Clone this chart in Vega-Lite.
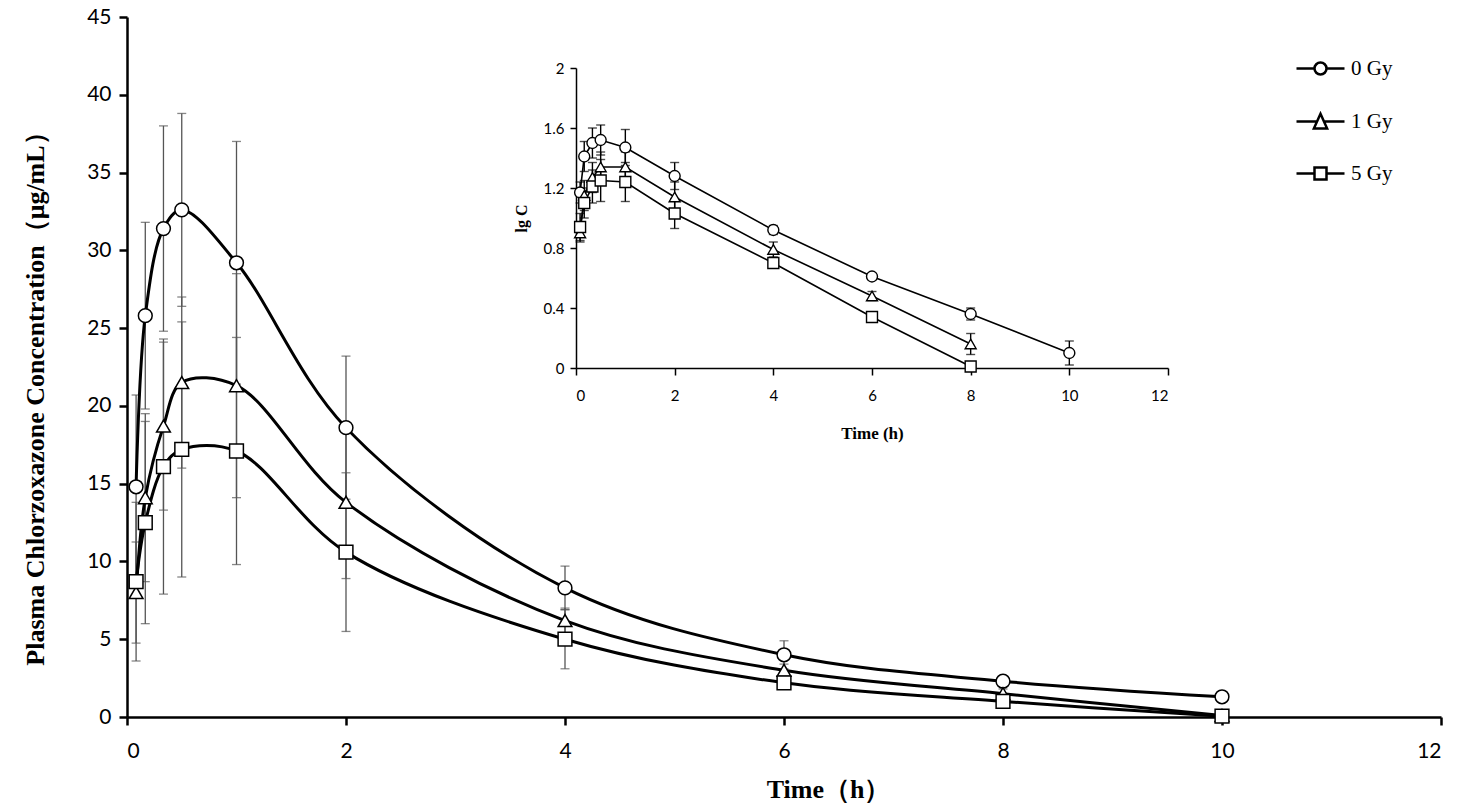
{
  "$schema": "https://vega.github.io/schema/vega-lite/v6.json",
  "width": 1314,
  "height": 700,
  "autosize": {"type": "none"},
  "padding": {"left": 127, "top": 17, "right": 35, "bottom": 88},
  "background": "white",
  "config": {
    "view": {"stroke": null},
    "axis": {"grid": false, "domainColor": "black", "tickColor": "black", "labelColor": "black", "titleColor": "black"}
  },
  "datasets": {
    "main": [
      {"group": "0 Gy", "t": 0.083, "c": 14.8, "sd": 5.9},
      {"group": "0 Gy", "t": 0.167, "c": 25.8, "sd": 6.0},
      {"group": "0 Gy", "t": 0.333, "c": 31.4, "sd": 6.6},
      {"group": "0 Gy", "t": 0.5, "c": 32.6, "sd": 6.2},
      {"group": "0 Gy", "t": 1, "c": 29.2, "sd": 7.8},
      {"group": "0 Gy", "t": 2, "c": 18.6, "sd": 4.6},
      {"group": "0 Gy", "t": 4, "c": 8.3, "sd": 1.4},
      {"group": "0 Gy", "t": 6, "c": 4.0, "sd": 0.9},
      {"group": "0 Gy", "t": 8, "c": 2.3, "sd": 0.3},
      {"group": "0 Gy", "t": 10, "c": 1.3, "sd": 0.2},
      {"group": "1 Gy", "t": 0.083, "c": 8.0, "sd": 3.25},
      {"group": "1 Gy", "t": 0.167, "c": 14.1, "sd": 5.4},
      {"group": "1 Gy", "t": 0.333, "c": 18.7, "sd": 5.4},
      {"group": "1 Gy", "t": 0.5, "c": 21.5, "sd": 5.5},
      {"group": "1 Gy", "t": 1, "c": 21.3, "sd": 7.2},
      {"group": "1 Gy", "t": 2, "c": 13.8, "sd": 4.9},
      {"group": "1 Gy", "t": 4, "c": 6.2, "sd": 0.8},
      {"group": "1 Gy", "t": 6, "c": 3.0, "sd": 0.4},
      {"group": "1 Gy", "t": 8, "c": 1.5, "sd": 0.3},
      {"group": "1 Gy", "t": 10, "c": 0.1, "sd": 0.1},
      {"group": "5 Gy", "t": 0.083, "c": 8.7, "sd": 5.1},
      {"group": "5 Gy", "t": 0.167, "c": 12.5, "sd": 6.5},
      {"group": "5 Gy", "t": 0.333, "c": 16.1, "sd": 8.2},
      {"group": "5 Gy", "t": 0.5, "c": 17.2, "sd": 8.2},
      {"group": "5 Gy", "t": 1, "c": 17.1, "sd": 7.3},
      {"group": "5 Gy", "t": 2, "c": 10.6, "sd": 5.1},
      {"group": "5 Gy", "t": 4, "c": 5.0, "sd": 1.9},
      {"group": "5 Gy", "t": 6, "c": 2.2, "sd": 0.4},
      {"group": "5 Gy", "t": 8, "c": 1.0, "sd": 0.2},
      {"group": "5 Gy", "t": 10, "c": 0.05, "sd": 0.05}
    ],
    "inset": [
      {"group": "0 Gy", "t": 0.083, "lg": 1.17, "sd": 0.07},
      {"group": "0 Gy", "t": 0.167, "lg": 1.41, "sd": 0.1},
      {"group": "0 Gy", "t": 0.333, "lg": 1.5, "sd": 0.1},
      {"group": "0 Gy", "t": 0.5, "lg": 1.52, "sd": 0.1},
      {"group": "0 Gy", "t": 1, "lg": 1.47, "sd": 0.12},
      {"group": "0 Gy", "t": 2, "lg": 1.28, "sd": 0.09},
      {"group": "0 Gy", "t": 4, "lg": 0.92, "sd": 0.03},
      {"group": "0 Gy", "t": 6, "lg": 0.61, "sd": 0.02},
      {"group": "0 Gy", "t": 8, "lg": 0.36, "sd": 0.04},
      {"group": "0 Gy", "t": 10, "lg": 0.1, "sd": 0.08},
      {"group": "1 Gy", "t": 0.083, "lg": 0.9, "sd": 0.06},
      {"group": "1 Gy", "t": 0.167, "lg": 1.15, "sd": 0.1},
      {"group": "1 Gy", "t": 0.333, "lg": 1.27, "sd": 0.1},
      {"group": "1 Gy", "t": 0.5, "lg": 1.34, "sd": 0.1},
      {"group": "1 Gy", "t": 1, "lg": 1.34, "sd": 0.1},
      {"group": "1 Gy", "t": 2, "lg": 1.14, "sd": 0.1},
      {"group": "1 Gy", "t": 4, "lg": 0.79, "sd": 0.05},
      {"group": "1 Gy", "t": 6, "lg": 0.48, "sd": 0.03},
      {"group": "1 Gy", "t": 8, "lg": 0.16, "sd": 0.07},
      {"group": "5 Gy", "t": 0.083, "lg": 0.94, "sd": 0.09},
      {"group": "5 Gy", "t": 0.167, "lg": 1.1, "sd": 0.1},
      {"group": "5 Gy", "t": 0.333, "lg": 1.21, "sd": 0.11},
      {"group": "5 Gy", "t": 0.5, "lg": 1.25, "sd": 0.14},
      {"group": "5 Gy", "t": 1, "lg": 1.24, "sd": 0.13},
      {"group": "5 Gy", "t": 2, "lg": 1.03, "sd": 0.1},
      {"group": "5 Gy", "t": 4, "lg": 0.7, "sd": 0.03},
      {"group": "5 Gy", "t": 6, "lg": 0.34, "sd": 0.03},
      {"group": "5 Gy", "t": 8, "lg": 0.01, "sd": 0.02}
    ]
  },
  "layer": [
    {
      "data": {"name": "main"},
      "encoding": {
        "x": {
          "field": "t", "type": "quantitative",
          "scale": {"domain": [0, 12], "nice": false, "zero": false},
          "axis": {
            "orient": "bottom", "values": [0, 2, 4, 6, 8, 10, 12],
            "domainWidth": 2.5, "tickWidth": 2.5, "tickSize": 8,
            "labelFont": "Lato", "labelFontSize": 21, "labelPadding": 15,
            "title": "Time（h）", "titleFont": "Liberation Serif", "titleFontWeight": "bold",
            "titleFontSize": 26, "titleX": 701, "titleY": 80, "titleBaseline": "alphabetic"
          }
        },
        "y": {
          "field": "c", "type": "quantitative",
          "scale": {"domain": [0, 45], "nice": false},
          "axis": {
            "orient": "left", "values": [0, 5, 10, 15, 20, 25, 30, 35, 40, 45],
            "domainWidth": 2.5, "tickWidth": 2.5, "tickSize": 8,
            "labelFont": "Lato", "labelFontSize": 21, "labelPadding": 8,
            "title": "Plasma  Chlorzoxazone Concentration（μg/mL）", "titleFont": "Liberation Serif",
            "titleFontWeight": "bold", "titleFontSize": 26, "titleX": -84, "titleY": 375,
            "titleBaseline": "alphabetic"
          }
        }
      },
      "layer": [
        {
          "mark": {"type": "errorbar", "color": "#555555", "thickness": 1.3, "ticks": {"size": 9, "color": "#555555", "thickness": 1.3}},
          "encoding": {"yError": {"field": "sd"}, "detail": {"field": "group"}}
        },
        {
          "mark": {"type": "line", "interpolate": "catmull-rom", "color": "black", "strokeWidth": 3},
          "encoding": {"detail": {"field": "group"}}
        },
        {
          "mark": {"type": "point", "filled": true, "fill": "white", "stroke": "black", "strokeWidth": 1.5, "opacity": 1, "size": 190},
          "encoding": {
            "shape": {
              "field": "group", "type": "nominal",
              "scale": {"domain": ["0 Gy", "1 Gy", "5 Gy"], "range": ["circle", "triangle-up", "square"]},
              "legend": null
            }
          }
        }
      ]
    },
    {
      "data": {"name": "inset"},
      "encoding": {
        "x": {
          "field": "t", "type": "quantitative",
          "scale": {"domain": [0, 12], "nice": false, "zero": false, "range": [449, 1041]},
          "axis": {
            "orient": "bottom", "offset": -349, "values": [0, 2, 4, 6, 8, 10, 12],
            "domainWidth": 1.5, "tickWidth": 1.5, "tickSize": 7,
            "labelFont": "Lato", "labelFontSize": 15, "labelPadding": 13,
            "title": "Time (h)", "titleFont": "Liberation Serif", "titleFontWeight": "bold",
            "titleFontSize": 17, "titlePadding": 22
          }
        },
        "y": {
          "field": "lg", "type": "quantitative",
          "scale": {"domain": [0, 2], "nice": false, "range": [351, 51]},
          "axis": {
            "orient": "left", "offset": -449, "values": [0, 0.4, 0.8, 1.2, 1.6, 2], "format": "~g",
            "domainWidth": 1.5, "tickWidth": 1.5, "tickSize": 6,
            "labelFont": "Lato", "labelFontSize": 15, "labelPadding": 6,
            "title": "lg C", "titleFont": "Liberation Serif", "titleFontWeight": "bold",
            "titleFontSize": 16, "titlePadding": 14
          }
        }
      },
      "layer": [
        {
          "mark": {"type": "errorbar", "color": "black", "thickness": 1.4, "ticks": {"size": 9, "color": "black", "thickness": 1.4}},
          "encoding": {"yError": {"field": "sd"}, "detail": {"field": "group"}}
        },
        {
          "mark": {"type": "line", "color": "black", "strokeWidth": 1.6},
          "encoding": {"detail": {"field": "group"}}
        },
        {
          "mark": {"type": "point", "filled": true, "fill": "white", "stroke": "black", "strokeWidth": 1.4, "opacity": 1, "size": 120},
          "encoding": {
            "shape": {
              "field": "group", "type": "nominal",
              "scale": {"domain": ["0 Gy", "1 Gy", "5 Gy"], "range": ["circle", "triangle-up", "square"]},
              "legend": null
            }
          }
        }
      ]
    },
    {
      "data": {"values": []},
      "mark": {"type": "point", "color": "black", "strokeWidth": 2.5, "opacity": 1},
      "encoding": {
        "shape": {
          "field": "group", "type": "nominal",
          "scale": {
            "domain": ["0 Gy", "1 Gy", "5 Gy"],
            "range": [
              "M-4,0L-1,0M1,0L4,0M-1,0A1,1,0,1,1,1,0A1,1,0,1,1,-1,0Z",
              "M-4,0L-0.58,0M0.58,0L4,0M0,-1.3L1.1,1.15L-1.1,1.15Z",
              "M-4,0L-1,0M1,0L4,0M-1,-1L1,-1L1,1L-1,1Z"
            ]
          },
          "legend": {
            "orient": "none", "legendX": 1183, "legendY": 41, "title": null, "padding": 0,
            "symbolSize": 144, "symbolStrokeWidth": 2.5, "symbolOpacity": 1, "symbolStrokeColor": "black",
            "labelFont": "Liberation Serif", "labelFontSize": 21, "labelColor": "black", "labelOffset": 20,
            "rowPadding": 28
          }
        }
      }
    }
  ],
  "resolve": {
    "scale": {"x": "independent", "y": "independent", "shape": "independent"},
    "axis": {"x": "independent", "y": "independent"}
  }
}
